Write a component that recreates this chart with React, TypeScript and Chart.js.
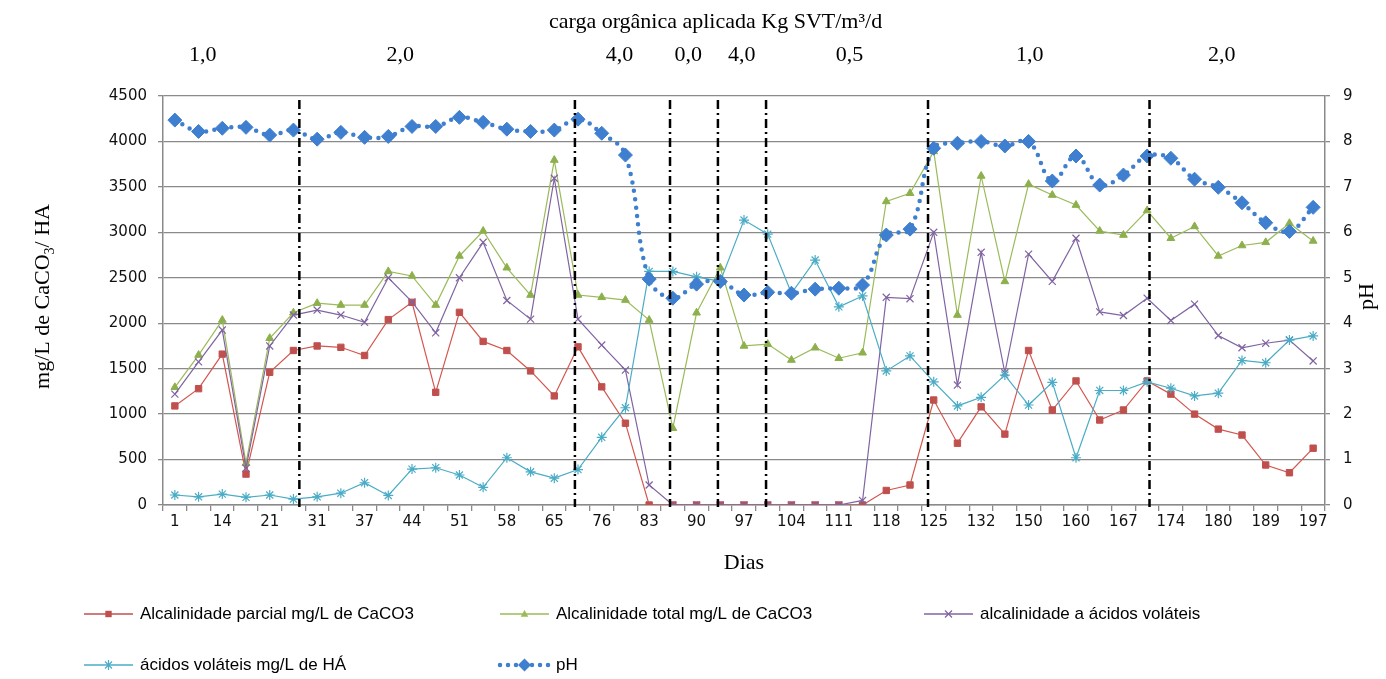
import React, { useEffect, useRef } from 'react';
import { Chart, registerables } from 'chart.js';

Chart.register(...registerables);

// ---- data ----
const days: number[] = [1, 7, 14, 17, 21, 28, 31, 34, 37, 41, 44, 48, 51, 55, 58, 62, 65, 70, 76, 79, 83, 86, 90, 93, 97, 100, 104, 107, 111, 114, 118, 121, 125, 128, 132, 139, 150, 155, 160, 163, 167, 170, 174, 177, 180, 184, 189, 193, 197];

const alcParcial: number[] = [1090, 1280, 1660, 340, 1460, 1700, 1750, 1735, 1645, 2040, 2230, 1240, 2120, 1800, 1700, 1475, 1200, 1740, 1300, 900, 0, 0, 0, 0, 0, 0, 0, 0, 0, 0, 160, 220, 1155, 680, 1080, 780, 1700, 1045, 1365, 935, 1045, 1365, 1220, 1000, 835, 770, 440, 355, 625];

const alcTotal: number[] = [1295, 1650, 2035, 460, 1835, 2115, 2220, 2200, 2200, 2570, 2520, 2200, 2740, 3015, 2610, 2310, 3795, 2310, 2285, 2255, 2035, 845, 2115, 2610, 1750, 1770, 1595, 1730, 1615, 1675, 3340, 3430, 3890, 2090, 3620, 2460, 3530, 3410, 3300, 3015, 2970, 3240, 2935, 3065, 2740, 2855, 2890, 3100, 2905];

const alcAcidos: number[] = [1220, 1575, 1925, 405, 1750, 2090, 2145, 2090, 2010, 2500, 2235, 1895, 2500, 2890, 2250, 2045, 3595, 2045, 1760, 1485, 220, 0, 0, 0, 0, 0, 0, 0, 0, 50, 2285, 2270, 3000, 1320, 2780, 1455, 2760, 2460, 2935, 2125, 2085, 2275, 2030, 2210, 1865, 1730, 1780, 1815, 1585];

const acidosVolateis: number[] = [110, 90, 120, 85, 110, 65, 90, 130, 245, 105, 395, 410, 330, 195, 520, 365, 295, 390, 745, 1070, 2570, 2570, 2510, 2460, 3135, 2980, 2330, 2695, 2180, 2300, 1475, 1640, 1355, 1090, 1185, 1430, 1100, 1350, 520, 1260, 1260, 1355, 1285, 1200, 1230, 1590, 1565, 1815, 1860];

const phValues: number[] = [8.47, 8.22, 8.29, 8.31, 8.14, 8.25, 8.05, 8.2, 8.09, 8.11, 8.33, 8.33, 8.53, 8.42, 8.27, 8.22, 8.25, 8.49, 8.18, 7.7, 4.97, 4.55, 4.86, 4.92, 4.62, 4.68, 4.66, 4.75, 4.77, 4.84, 5.94, 6.07, 7.85, 7.96, 8.0, 7.9, 8.0, 7.13, 7.68, 7.04, 7.26, 7.68, 7.63, 7.17, 6.99, 6.65, 6.21, 6.02, 6.55];

const seriesNames: string[] = [
  'Alcalinidade parcial mg/L de CaCO3',
  'Alcalinidade total mg/L de CaCO3',
  'alcalinidade a ácidos voláteis',
  'ácidos voláteis mg/L de HÁ',
  'pH',
];

// phase boundaries (in category units) and applied organic load labels
const phaseBreaks: number[] = [5.25, 16.87, 20.88, 22.9, 24.93, 31.76, 41.1];
const loadLabels: string[] = ['1,0', '2,0', '4,0', '0,0', '4,0', '0,5', '1,0', '2,0'];
const loadPositions: number[] = [1.18, 9.5, 18.75, 21.65, 23.9, 28.45, 36.05, 44.15];

const topTitle = 'carga orgânica aplicada Kg SVT/m³/d';
const xTitle = 'Dias';
const phTitle = 'pH';

// ---- styles ----
const RED = '#C0504D';
const GREEN = '#9BBB59';
const PURPLE = '#8064A2';
const CYAN = '#4BACC6';
const BLUE = '#3F7FCF';
const GRID = '#8a8a8a';
const SERIF = "'Liberation Serif', 'Times New Roman', serif";
const SANS = "'DejaVu Sans', 'Liberation Sans', sans-serif";
const LEGEND_FONT = "17px 'Liberation Sans', Arial, sans-serif";

const colors = [RED, GREEN, PURPLE, CYAN, BLUE];
const markers = ['rect', 'triangle', 'crossRot', 'star', 'rectRot'];

function drawMarker(ctx: CanvasRenderingContext2D, kind: string, x: number, y: number, color: string) {
  ctx.save();
  ctx.fillStyle = color;
  ctx.strokeStyle = color;
  ctx.lineWidth = 1.2;
  ctx.setLineDash([]);
  ctx.beginPath();
  if (kind === 'rect') {
    ctx.rect(x - 3.2, y - 3.2, 6.4, 6.4);
    ctx.fill();
  } else if (kind === 'triangle') {
    ctx.moveTo(x, y - 4);
    ctx.lineTo(x + 3.8, y + 2.8);
    ctx.lineTo(x - 3.8, y + 2.8);
    ctx.closePath();
    ctx.fill();
  } else if (kind === 'crossRot') {
    ctx.moveTo(x - 3.5, y - 3.5);
    ctx.lineTo(x + 3.5, y + 3.5);
    ctx.moveTo(x + 3.5, y - 3.5);
    ctx.lineTo(x - 3.5, y + 3.5);
    ctx.stroke();
  } else if (kind === 'star') {
    ctx.moveTo(x - 3.5, y - 3.5);
    ctx.lineTo(x + 3.5, y + 3.5);
    ctx.moveTo(x + 3.5, y - 3.5);
    ctx.lineTo(x - 3.5, y + 3.5);
    ctx.moveTo(x, y - 5);
    ctx.lineTo(x, y + 5);
    ctx.stroke();
  } else {
    ctx.moveTo(x, y - 6.5);
    ctx.lineTo(x + 6.5, y);
    ctx.lineTo(x, y + 6.5);
    ctx.lineTo(x - 6.5, y);
    ctx.closePath();
    ctx.fill();
  }
  ctx.restore();
}

const overlayPlugin = {
  id: 'overlay',
  afterDatasetsDraw(chart: any) {
    const { ctx, chartArea, scales } = chart;
    const xs = scales.x;
    ctx.save();
    ctx.strokeStyle = '#000';
    ctx.lineWidth = 2.5;
    ctx.setLineDash([9, 4, 2, 4]);
    for (const v of phaseBreaks) {
      const px = xs.getPixelForValue(v);
      ctx.beginPath();
      ctx.moveTo(px, chartArea.top + 4);
      ctx.lineTo(px, chartArea.bottom + 2);
      ctx.stroke();
    }
    ctx.restore();
  },
  afterDraw(chart: any) {
    const { ctx, chartArea, scales } = chart;
    const xs = scales.x;
    ctx.save();
    ctx.fillStyle = '#000';
    ctx.textBaseline = 'middle';
    ctx.textAlign = 'center';

    // top title
    ctx.font = `22px ${SERIF}`;
    ctx.fillText(topTitle, xs.getPixelForValue(22.8), 22);

    // load labels
    loadLabels.forEach((t, i) => {
      ctx.fillText(t, xs.getPixelForValue(loadPositions[i]), 55);
    });

    // left axis title with subscript
    const cy = (chartArea.top + chartArea.bottom) / 2 - 4;
    ctx.save();
    ctx.translate(42, cy);
    ctx.rotate(-Math.PI / 2);
    ctx.textAlign = 'left';
    ctx.textBaseline = 'alphabetic';
    const p1 = 'mg/L de CaCO';
    const p2 = '3';
    const p3 = '/ HA';
    ctx.font = `22px ${SERIF}`;
    const w1 = ctx.measureText(p1).width;
    const w3 = ctx.measureText(p3).width;
    ctx.font = `14px ${SERIF}`;
    const w2 = ctx.measureText(p2).width;
    const total = w1 + w2 + w3;
    let sx = -total / 2;
    const base = 7;
    ctx.font = `22px ${SERIF}`;
    ctx.fillText(p1, sx, base);
    sx += w1;
    ctx.font = `14px ${SERIF}`;
    ctx.fillText(p2, sx, base + 5);
    sx += w2;
    ctx.font = `22px ${SERIF}`;
    ctx.fillText(p3, sx, base);
    ctx.restore();

    // right axis title
    ctx.save();
    ctx.translate(1367, (chartArea.top + chartArea.bottom) / 2 - 4);
    ctx.rotate(-Math.PI / 2);
    ctx.font = `22px ${SERIF}`;
    ctx.textAlign = 'center';
    ctx.textBaseline = 'middle';
    ctx.fillText(phTitle, 0, 0);
    ctx.restore();

    // legend
    const cols = [84, 500, 924];
    const rows = [614, 665];
    ctx.font = LEGEND_FONT;
    ctx.textAlign = 'left';
    ctx.textBaseline = 'middle';
    seriesNames.forEach((name, i) => {
      const col = cols[i % 3];
      const y = rows[Math.floor(i / 3)];
      ctx.save();
      ctx.strokeStyle = colors[i];
      if (i === 4) {
        ctx.lineWidth = 4.5;
        ctx.lineCap = 'round';
        ctx.setLineDash([0, 8]);
      } else {
        ctx.lineWidth = 1.3;
      }
      ctx.beginPath();
      ctx.moveTo(col, y);
      ctx.lineTo(col + 49, y);
      ctx.stroke();
      ctx.restore();
      drawMarker(ctx, markers[i], col + 24.5, y, colors[i]);
      ctx.fillStyle = '#000';
      ctx.fillText(name, col + 56, y);
    });
    ctx.restore();
  },
};

export default function App() {
  const canvasRef = useRef<HTMLCanvasElement | null>(null);

  useEffect(() => {
    const canvas = canvasRef.current;
    if (!canvas) return;
    const tickFont = { family: SANS, size: 15 };
    const labels = days.map(String);
    const plain = (v: any) => String(v);

    const chart = new Chart(canvas, {
      type: 'line',
      data: {
        labels,
        datasets: [
          {
            label: seriesNames[0],
            data: alcParcial,
            yAxisID: 'y',
            borderColor: '#D4574F',
            backgroundColor: RED,
            borderWidth: 1.2,
            pointStyle: 'rect',
            pointRadius: 4.5,
            pointBackgroundColor: RED,
            pointBorderColor: RED,
            pointBorderWidth: 1,
            tension: 0,
            order: 5,
          },
          {
            label: seriesNames[1],
            data: alcTotal,
            yAxisID: 'y',
            borderColor: GREEN,
            backgroundColor: GREEN,
            borderWidth: 1.2,
            pointStyle: 'triangle',
            pointRadius: 4.5,
            pointBackgroundColor: '#8DB04C',
            pointBorderColor: '#8DB04C',
            pointBorderWidth: 1,
            tension: 0,
            order: 4,
          },
          {
            label: seriesNames[2],
            data: alcAcidos,
            yAxisID: 'y',
            borderColor: PURPLE,
            backgroundColor: PURPLE,
            borderWidth: 1.2,
            pointStyle: 'crossRot',
            pointRadius: 5,
            pointBorderColor: PURPLE,
            pointBorderWidth: 1.2,
            tension: 0,
            order: 3,
          },
          {
            label: seriesNames[3],
            data: acidosVolateis,
            yAxisID: 'y',
            borderColor: CYAN,
            backgroundColor: CYAN,
            borderWidth: 1.2,
            pointStyle: 'star',
            pointRadius: 5,
            pointBorderColor: CYAN,
            pointBorderWidth: 1.2,
            tension: 0,
            order: 2,
          },
          {
            label: seriesNames[4],
            data: phValues,
            yAxisID: 'y2',
            borderColor: BLUE,
            backgroundColor: BLUE,
            borderWidth: 4.5,
            borderDash: [0, 8.5],
            borderCapStyle: 'round',
            pointStyle: 'rectRot',
            pointRadius: 7,
            pointBackgroundColor: BLUE,
            pointBorderColor: BLUE,
            pointBorderWidth: 1,
            tension: 0.4,
            order: 1,
          },
        ],
      },
      options: {
        animation: false,
        responsive: true,
        maintainAspectRatio: false,
        layout: { padding: { top: 96, bottom: 100, left: 0, right: 0 } },
        plugins: {
          legend: { display: false },
          tooltip: { enabled: false },
          title: { display: false },
        },
        scales: {
          x: {
            type: 'category',
            offset: true,
            grid: {
              offset: true,
              drawOnChartArea: false,
              drawTicks: true,
              tickLength: 6,
              color: GRID,
              lineWidth: 1.3,
            },
            border: { color: GRID, width: 1.5 },
            ticks: {
              autoSkip: false,
              maxRotation: 0,
              minRotation: 0,
              padding: 2,
              font: tickFont,
              color: '#111',
              callback: (_v: any, i: number) => (i % 2 === 0 ? labels[i] : ''),
            },
            title: {
              display: true,
              text: xTitle,
              color: '#000',
              font: { family: SERIF, size: 22 },
              padding: { top: 0, bottom: 3 },
            },
            afterFit: (s: any) => {
              s.height = 74;
            },
          },
          y: {
            position: 'left',
            min: 0,
            max: 4500,
            ticks: { stepSize: 500, padding: 11, font: tickFont, color: '#111', callback: plain },
            grid: { color: GRID, lineWidth: 1.3, tickLength: 5 },
            border: { color: GRID, width: 1.5 },
            afterFit: (s: any) => {
              s.width = 163;
            },
          },
          y2: {
            position: 'right',
            min: 0,
            max: 9,
            ticks: { stepSize: 1, padding: 13, font: tickFont, color: '#111', callback: plain },
            grid: { drawOnChartArea: false, color: GRID, lineWidth: 1.3, tickLength: 5 },
            border: { color: GRID, width: 1.5 },
            afterFit: (s: any) => {
              s.width = 61;
            },
          },
        },
      },
      plugins: [overlayPlugin],
    } as any);

    return () => {
      chart.destroy();
    };
  }, []);

  return (
    <div style={{ position: 'fixed', left: 0, top: 0, width: 1386, height: 679, background: '#fff' }}>
      <canvas ref={canvasRef} />
    </div>
  );
}
